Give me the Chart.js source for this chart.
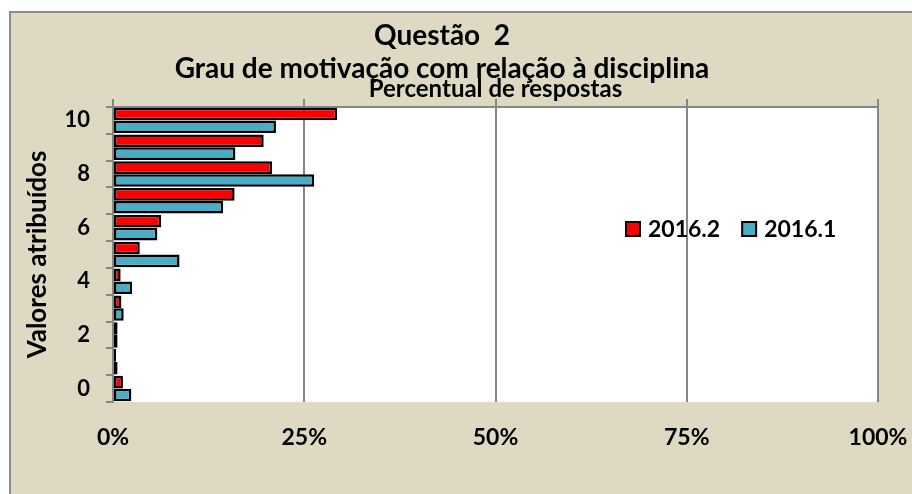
<!DOCTYPE html>
<html>
<head>
<meta charset="utf-8">
<title>Questão 2</title>
<script src="https://cdn.jsdelivr.net/npm/chart.js@4.4.1/dist/chart.umd.min.js"></script>
<style>
  html, body { margin: 0; padding: 0; background: #fff; }
  #wrap { width: 912px; height: 494px; position: relative; }
</style>
</head>
<body>
<div id="wrap"><canvas id="quesChart"></canvas></div>
<script>
// categories (score given) and % of answers per semester
const notas = ["0", "1", "2", "3", "4", "5", "6", "7", "8", "9", "10"];
const sem20162 = [1.3, 0.4, 0.6, 1.1, 1.0, 3.5, 6.3, 15.9, 20.8, 19.7, 29.3];
const sem20161 = [2.4, 0.6, 0.6, 1.4, 2.5, 8.7, 5.8, 14.4, 26.3, 16.0, 21.3];
const pctTicks = [0, 25, 50, 75, 100];

const FONT = "Lato, 'Liberation Sans', sans-serif";
const GRID = "#868686";

// beige frame + white plot area behind everything
const frameBg = {
  id: "frameBg",
  beforeDraw(chart) {
    const c = chart.ctx;
    const a = chart.chartArea;
    c.save();
    c.fillStyle = "#ffffff";
    c.fillRect(0, 0, chart.width, chart.height);
    c.fillStyle = "#DDD9C3";
    c.fillRect(9, 11, chart.width, chart.height);
    c.strokeStyle = "#8c8c8c";
    c.lineWidth = 2;
    c.beginPath();
    c.moveTo(10, chart.height);
    c.lineTo(10, 12);
    c.lineTo(chart.width, 12);
    c.stroke();
    c.fillStyle = "#ffffff";
    c.fillRect(a.left, a.top, a.right - a.left, a.bottom - a.top);
    c.restore();
  }
};

// legend sits inside the plot, items side by side
const inLegend = {
  id: "inLegend",
  afterDraw(chart) {
    const c = chart.ctx;
    let x = 626;
    const y = 229;
    c.save();
    c.font = "bold 23px " + FONT;
    c.textBaseline = "middle";
    c.textAlign = "left";
    chart.data.datasets.forEach((ds) => {
      c.fillStyle = ds.backgroundColor;
      c.fillRect(x, y - 7, 14, 14);
      c.strokeStyle = "#000";
      c.lineWidth = 2;
      c.strokeRect(x, y - 7, 14, 14);
      c.fillStyle = "#000";
      c.fillText(ds.label, x + 22, y + 1);
      x += 22 + c.measureText(ds.label).width + 22;
    });
    c.restore();
  }
};

const ctx = document.getElementById("quesChart");

const data = {
  labels: notas,
  datasets: [
    {
      label: "2016.2",
      data: sem20162,
      backgroundColor: "#FF0000",
      borderColor: "#000000",
      borderWidth: 2.5,
      borderSkipped: false
    },
    {
      label: "2016.1",
      data: sem20161,
      backgroundColor: "#4BACC6",
      borderColor: "#000000",
      borderWidth: 2.5,
      borderSkipped: false
    }
  ]
};

const config = {
  type: "bar",
  data: data,
  options: {
    indexAxis: "y",
    responsive: true,
    maintainAspectRatio: false,
    animation: false,
    categoryPercentage: 0.96,
    barPercentage: 0.98,
    layout: { padding: { left: 6, right: 34, top: 0, bottom: 0 } },
    plugins: {
      legend: { display: false },
      tooltip: { enabled: false },
      title: {
        display: true,
        text: ["Questão  2", "Grau de motivação com relação à disciplina"],
        color: "#000",
        font: { family: FONT, size: 28, weight: "bold", lineHeight: 1.16 },
        padding: { top: 20, bottom: -8 }
      }
    },
    scales: {
      x: {
        position: "bottom",
        min: 0,
        max: 100,
        afterBuildTicks(scale) {
          scale.ticks = pctTicks.map((v) => ({ value: v }));
        },
        afterFit(scale) { scale.height = 92; },
        // invisible tick marks push the labels down without widening the side padding
        grid: { color: GRID, lineWidth: 2, drawTicks: true, tickLength: 20, tickColor: "rgba(0,0,0,0)" },
        border: { display: false },
        ticks: {
          padding: 2,
          color: "#000",
          font: { family: FONT, size: 23, weight: "bold" },
          callback: (v) => v + "%"
        }
      },
      x2: {
        position: "top",
        min: 0,
        max: 100,
        afterBuildTicks(scale) {
          scale.ticks = pctTicks.map((v) => ({ value: v }));
        },
        afterFit(scale) { scale.height = 30; },
        grid: { color: GRID, lineWidth: 2, drawOnChartArea: false, tickLength: 8 },
        border: { display: true, color: GRID, width: 2 },
        ticks: { display: false },
        title: {
          display: true,
          text: "Percentual de respostas",
          color: "#000",
          font: { family: FONT, size: 24, weight: "bold", lineHeight: 1.0 },
          padding: { top: 0, bottom: 0 }
        }
      },
      y: {
        reverse: true,
        afterFit(scale) { scale.width = 107; },
        grid: { offset: true, color: GRID, lineWidth: 2, drawOnChartArea: false, tickLength: 7 },
        border: { display: true, color: GRID, width: 2 },
        ticks: {
          autoSkip: false,
          padding: 16,
          color: "#000",
          font: { family: FONT, size: 22, weight: "bold" },
          callback: (v, i) => (i % 2 === 0 ? notas[i] : "")
        },
        title: {
          display: true,
          text: "Valores atribuídos",
          color: "#000",
          font: { family: FONT, size: 26, weight: "bold", lineHeight: 1.2 },
          padding: { top: 16, bottom: 0 }
        }
      }
    }
  },
  plugins: [frameBg, inLegend]
};

const motivChart = new Chart(ctx, config);
</script>
</body>
</html>
